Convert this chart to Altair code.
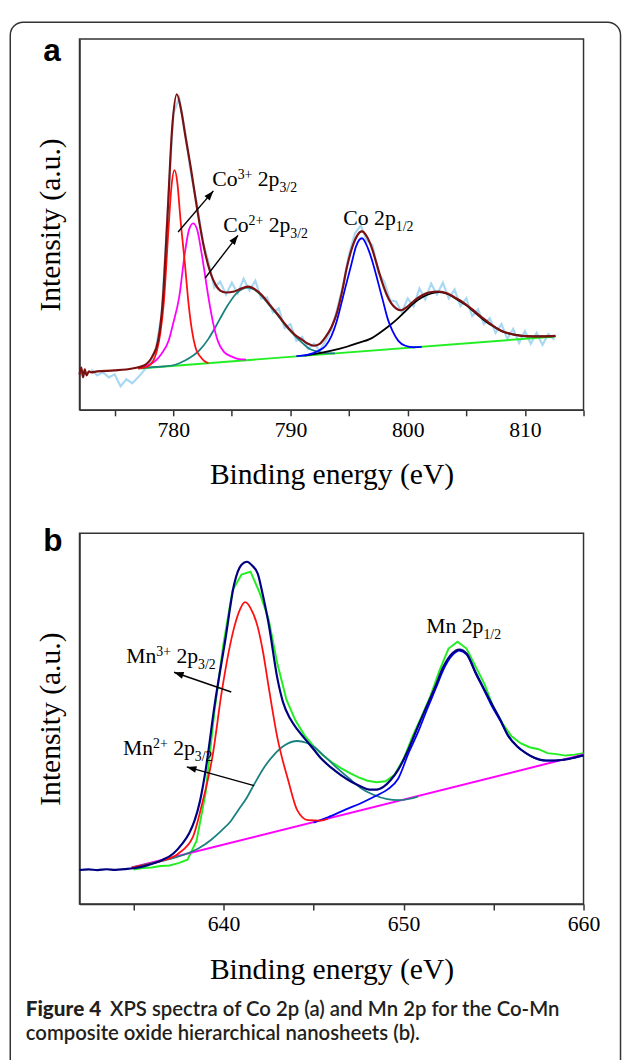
import math
import altair as alt
import pandas as pd

# ---------------- Panel a : Co 2p ----------------
a_raw_energy = [773.0, 773.5, 774.0, 774.5, 775.0, 775.5, 776.0, 776.5, 777.0, 777.5,
                778.0, 778.5, 779.0, 779.5, 780.0, 780.5, 781.0, 781.5, 782.0, 782.5,
                783.0, 783.5, 784.0, 784.5, 785.0, 785.5, 786.0, 786.5, 787.0, 787.5,
                788.0, 788.5, 789.0, 789.5, 790.0, 790.5, 791.0, 791.5, 792.0, 792.5,
                793.0, 793.5, 794.0, 794.5, 795.0, 795.5, 796.0, 796.5, 797.0, 797.5,
                798.0, 798.5, 799.0, 799.5, 800.0, 800.5, 801.0, 801.5, 802.0, 802.5,
                803.0, 803.5, 804.0, 804.5, 805.0, 805.5, 806.0, 806.5, 807.0, 807.5,
                808.0, 808.5, 809.0, 809.5, 810.0, 810.5, 811.0, 811.5, 812.0, 812.5]
a_raw_intensity = [41, 35, 38, 33, 36, 24, 31, 27, 33, 40,
                   47, 61, 96, 196, 300, 316, 283, 240, 210, 172,
                   150, 124, 130, 117, 129, 118, 133, 121, 131, 113,
                   114, 99, 103, 83, 87, 70, 74, 62, 67, 60,
                   70, 82, 103, 127, 158, 179, 187, 172, 167, 139,
                   130, 111, 110, 99, 113, 105, 123, 112, 128, 117,
                   129, 113, 122, 105, 113, 95, 102, 87, 93, 78,
                   87, 72, 82, 68, 80, 67, 78, 66, 77, 71]

a_fit_energy = [772.0, 772.15, 772.3, 772.45, 772.6, 772.8, 773.0, 773.5, 775.0, 776.5,
                777.5, 778.2, 778.7, 779.1, 779.5, 779.9, 780.3, 780.7, 781.0, 781.5,
                781.9, 782.3, 782.7, 783.2, 783.6, 784.0, 784.5, 785.2, 785.8, 786.4,
                787.0, 787.5, 788.2, 788.9, 789.6, 790.3, 791.0, 791.5, 792.0, 792.5,
                793.0, 793.5, 793.9, 794.4, 794.8, 795.3, 795.7, 796.1, 796.5, 797.0,
                797.3, 797.8, 798.2, 798.6, 799.0, 799.4, 799.9, 800.3, 800.7, 801.2,
                801.8, 802.6, 803.4, 804.0, 804.6, 805.4, 806.3, 807.2, 808.0, 808.8,
                809.7, 810.6, 811.5, 812.6]
a_fit_intensity = [36, 43, 33, 41, 35, 39, 38, 39, 40, 42,
                   45, 54, 70, 110, 195, 285, 320, 302, 280, 245,
                   214, 185, 160, 138, 127, 121, 119, 120, 123, 125,
                   122, 117, 107, 97, 86, 77, 71, 67, 65, 67,
                   74, 84, 96, 120, 144, 166, 177, 181, 176, 162,
                   150, 130, 117, 108, 103, 101, 104, 108, 112, 116,
                   119, 120, 118, 114, 110, 103, 94, 86, 80, 77,
                   75, 74.5, 74.5, 75]

a_co3_energy = [777.0, 777.8, 778.3, 778.6, 778.9, 779.2, 779.6, 779.85, 780.1, 780.35,
                780.6, 781.0, 781.3, 781.6, 781.9, 782.3, 782.7, 783.0]
a_co3_intensity = [42, 44, 50, 60, 78, 110, 185, 227, 243, 230,
                   195, 147, 108, 80, 63, 54, 49, 47.5]

a_co2_energy = [777.0, 777.8, 778.5, 779.0, 779.6, 780.0, 780.5, 781.0, 781.35, 781.7,
                782.05, 782.4, 783.0, 783.4, 783.8, 784.3, 785.0, 785.6, 786.2]
a_co2_intensity = [42, 45, 50, 57, 70, 88, 114, 160, 183, 189,
                   182, 160, 114, 88, 70, 59, 54, 51.5, 51]

a_sat1_energy = [777.0, 778.5, 779.9, 781.0, 782.2, 783.0, 783.6, 784.2, 784.7, 785.3,
                 785.9, 786.4, 786.9, 787.5, 788.2, 788.9, 789.6, 790.3, 791.0, 791.6,
                 792.2, 793.0, 793.8]
a_sat1_intensity = [42, 43.5, 45, 50, 60, 72, 84, 97, 107, 117,
                    122.5, 124, 122, 116, 106, 96, 85, 76, 68, 62,
                    59.5, 57.5, 57.3]

a_p12_energy = [790.5, 791.5, 792.4, 793.0, 793.5, 793.9, 794.3, 794.7, 795.2, 795.6,
                796.1, 796.6, 797.0, 797.5, 797.9, 798.3, 798.7, 799.2, 799.8, 800.5,
                801.2]
a_p12_intensity = [54.5, 56, 60, 65, 75, 88, 106, 125, 148, 166,
                   174, 164, 150, 128, 110, 92, 80, 70, 65, 63.5,
                   63.8]

a_sat2_energy = [791.2, 792.5, 793.5, 794.8, 795.8, 796.8, 797.6, 798.4, 799.1, 799.8,
                 800.5, 801.2, 802.0, 802.7, 803.4, 804.2, 805.0, 805.8, 806.6, 807.4,
                 808.2, 809.0, 809.8, 810.6, 811.6, 812.6]
a_sat2_intensity = [55, 57.5, 60, 64, 68, 72, 78, 85, 92, 100,
                    108, 114, 118, 119.5, 117.5, 112, 106, 98, 90, 84,
                    79, 76.5, 75, 74.5, 74.5, 74.8]

a_base_energy = [777.1, 812.6]
a_base_intensity = [42, 74.5]

a_arrow_tail_e = [780.41, 782.72]
a_arrow_tail_i = [180.3, 133.7]
a_arrow_head_e = [783.42, 785.52]
a_arrow_head_i = [222, 177]

a_label_e = [783.33, 784.26, 794.51]
a_label_i = [227, 180.3, 187]
a_label_parts = [[("Co", "n"), ("3+", "sup"), (" ", "n"), ("2p", "n"), ("3/2", "sub")],
                 [("Co", "n"), ("2+", "sup"), (" ", "n"), ("2p", "n"), ("3/2", "sub")],
                 [("Co 2p", "n"), ("1/2", "sub")]]

a_ticks = [775, 780, 785, 790, 795, 800, 805, 810, 815]

# ---------------- Panel b : Mn 2p ----------------
b_raw_energy = [635.0, 635.5, 636.0, 636.5, 637.0, 637.5, 638.0, 638.5, 639.0, 639.5,
                640.0, 640.5, 641.0, 641.5, 642.0, 642.5, 643.0, 643.5, 644.0, 644.5,
                645.0, 645.5, 646.0, 646.5, 647.0, 647.5, 648.0, 648.5, 649.0, 649.5,
                650.0, 650.5, 651.0, 651.5, 652.0, 652.5, 653.0, 653.5, 654.0, 654.5,
                655.0, 655.5, 656.0, 656.5, 657.0, 657.5, 658.0, 658.5, 659.0, 659.5,
                660.0]
b_raw_intensity = [35, 36.5, 37, 38.5, 39, 41.5, 45, 64, 112, 196,
                   264, 318, 334, 337, 316, 289, 243, 207, 186, 171,
                   160, 151, 144, 138, 133, 128.5, 125, 123.5, 124.5, 131,
                   147, 170, 190, 211, 237, 259, 266, 259, 241, 223,
                   199, 183, 170, 163, 159, 157, 153, 152, 150.5, 151.5,
                   153]

b_fit_energy = [632.0, 632.5, 633.0, 633.5, 634.0, 634.5, 635.0, 635.8, 636.6, 637.2,
                637.7, 638.1, 638.4, 638.7, 639.0, 639.5, 640.1, 640.6, 641.0, 641.3,
                641.6, 641.9, 642.2, 642.5, 643.0, 643.3, 643.7, 644.1, 644.5, 645.0,
                645.4, 646.0, 646.5, 647.1, 647.6, 648.1, 648.5, 648.9, 649.3, 649.7,
                650.3, 650.8, 651.3, 651.8, 652.2, 652.7, 653.1, 653.5, 654.0, 654.5,
                654.9, 655.4, 655.8, 656.3, 656.8, 657.3, 657.9, 658.4, 658.9, 659.5,
                660.0]
b_fit_intensity = [34.5, 35.2, 34.4, 35.3, 34.6, 35.4, 36.3, 39.5, 44.7, 51,
                   61, 72, 85, 105, 135, 201, 268, 325, 344, 347,
                   343, 335, 312, 285, 228, 205, 188, 177, 168, 157,
                   148, 138, 131, 124, 119.5, 116, 116, 119, 126, 136,
                   158, 180, 201, 222, 240, 254, 258, 254, 235, 217,
                   203, 186, 171, 160, 153, 148, 145.5, 145.5, 146.3, 148.5,
                   150.7]

b_mn3_energy = [634.9, 636.0, 636.6, 637.5, 638.3, 638.8, 639.4, 639.9, 640.6, 640.9,
                641.2, 641.5, 641.9, 642.2, 642.5, 643.0, 643.6, 644.1, 644.7, 645.4,
                645.8]
b_mn3_intensity = [37, 41, 44, 51.3, 68, 101, 151, 215, 281, 298,
                   306, 300, 281, 255, 221, 168, 125, 95, 85, 84.5,
                   86.5]

b_mn2_energy = [634.9, 636.0, 637.0, 637.8, 638.6, 639.3, 639.9, 640.4, 640.8, 641.3,
                641.7, 642.2, 642.8, 643.4, 644.1, 644.6, 645.0, 645.6, 646.3, 647.0,
                647.6, 648.3, 649.1, 649.7, 650.3, 650.8]
b_mn2_intensity = [37, 41.5, 45.5, 50, 56.3, 65, 74.7, 84, 94.7, 108,
                   121.3, 137, 151.3, 161, 165.3, 163.5, 159.7, 150, 138, 127,
                   118, 111, 106.3, 105.3, 106.5, 109]

b_p12_energy = [645.0, 645.8, 646.8, 647.6, 648.5, 649.1, 649.7, 650.3, 650.8, 651.3,
                651.8, 652.2, 652.7, 653.1, 653.5, 654.0, 654.5, 654.9, 655.4, 655.8,
                656.3, 656.8, 657.3, 657.9, 658.4, 658.9, 659.5, 660.0]
b_p12_intensity = [82.5, 88, 96, 102, 110, 116, 127, 154, 174, 197,
                   219, 237, 252, 257, 253, 234, 216, 201, 185, 171,
                   160, 153, 148, 145.3, 145.3, 146.3, 148.5, 150.7]

b_base_energy = [634.9, 660.0]
b_base_intensity = [37, 151.6]

b_arrow_tail_e = [640.43, 641.70]
b_arrow_tail_i = [215, 120]
b_arrow_head_e = [637.25, 637.96]
b_arrow_head_i = [235, 139]

b_label_e = [634.59, 634.41, 651.26]
b_label_i = [244.7, 151.3, 274.7]
b_label_parts = [[("Mn", "n"), ("3+", "sup"), (" ", "n"), ("2p", "n"), ("3/2", "sub")],
                 [("Mn", "n"), ("2+", "sup"), (" ", "n"), ("2p", "n"), ("3/2", "sub")],
                 [("Mn 2p", "n"), ("1/2", "sub")]]

b_ticks = [635, 640, 645, 650, 655, 660]

caption_lines = ["Figure 4", "XPS spectra of Co 2p (a) and Mn 2p for the Co-Mn",
                 "composite oxide hierarchical nanosheets (b)."]

# ---------------- styling ----------------
W, H = 511, 376
SERIF = "Liberation Serif"
MAIN_FS, SCRIPT_FS = 22, 14
TIMES_W = {"C": .667, "o": .5, "M": .889, "n": .5, "2": .5, "3": .5, "+": .564,
           "p": .5, "/": .278, "1": .5, " ": .25}


def tw(s, fs):
    return sum(TIMES_W.get(c, .5) for c in s) * fs


def make_enc(domain, ticks):
    x = alt.X("E:Q", scale=alt.Scale(domain=domain, nice=False, zero=False),
              axis=alt.Axis(values=ticks, labelExpr="datum.value % 10 == 0 ? datum.label : ''",
                            tickSize=6, labelPadding=4, titlePadding=20, labelFlush=False,
                            labelOverlap=False),
              title="Binding energy (eV)")
    y = alt.Y("I:Q", scale=alt.Scale(domain=[0, H], nice=False, zero=False),
              axis=alt.Axis(labels=False, ticks=False, tickSize=0, titlePadding=14),
              title="Intensity (a.u.)")
    return x, y


def line(E, I, color, width, x, y, interp="monotone"):
    df = pd.DataFrame({"E": E, "I": I})
    return alt.Chart(df).mark_line(color=color, strokeWidth=width, interpolate=interp).encode(x=x, y=y)


def arrows(te, ti, he, hi, x, y, px_per_ev):
    angs = []
    for a, b, c, d in zip(te, ti, he, hi):
        dx = (c - a) * px_per_ev
        dy = (d - b)
        angs.append((math.degrees(math.atan2(dx, dy)) + 360) % 360)
    df = pd.DataFrame({"E": te, "I": ti, "E2": he, "I2": hi})
    heads = pd.DataFrame({"E": he, "I": hi, "ang": angs})
    rule = alt.Chart(df).mark_rule(color="black", strokeWidth=1.4).encode(
        x=x, y=y, x2="E2:Q", y2="I2:Q")
    head = alt.Chart(heads).mark_point(shape="M0,0L-0.36,1L0.36,1Z", filled=True,
                                       color="black", size=380, opacity=1).encode(
        x=x, y=y, angle=alt.Angle("ang:Q", scale=None))
    return [rule, head]


def labels(Es, Is, parts_list, x, y):
    out = []
    for e, i, parts in zip(Es, Is, parts_list):
        off = 0.0
        df = pd.DataFrame({"E": [e], "I": [i]})
        for txt, kind in parts:
            fs = MAIN_FS if kind == "n" else SCRIPT_FS
            dy = 0 if kind == "n" else (-7 if kind == "sup" else 6)
            if txt.strip():
                out.append(alt.Chart(df).mark_text(text=txt, font=SERIF, fontSize=fs, align="left",
                                                   baseline="alphabetic", dx=off, dy=dy,
                                                   color="black").encode(x=x, y=y))
            off += tw(txt, fs)
    return out


one = pd.DataFrame({"d": [0]})

# ---- panel a ----
xa, ya = make_enc([772, 815], a_ticks)
ppe_a = W / (815 - 772)
layers_a = [
    alt.Chart(one).mark_rect(filled=False, stroke="#333333", strokeWidth=1.5, cornerRadius=13).encode(
        x=alt.value(-70.2), x2=alt.value(548.5), y=alt.value(-17), y2=alt.value(1050)),
    line(a_raw_energy, a_raw_intensity, "#a8d8f2", 2.2, xa, ya, "linear"),
    line(a_base_energy, a_base_intensity, "#22ee22", 2, xa, ya, "linear"),
    line(a_sat1_energy, a_sat1_intensity, "#1a8080", 1.8, xa, ya),
    line(a_sat2_energy, a_sat2_intensity, "#000000", 1.8, xa, ya),
    line(a_p12_energy, a_p12_intensity, "#0000ff", 1.8, xa, ya),
    line(a_co2_energy, a_co2_intensity, "#ff00ff", 1.8, xa, ya),
    line(a_co3_energy, a_co3_intensity, "#ff1010", 1.8, xa, ya),
    line(a_fit_energy, a_fit_intensity, "#7a1010", 2.2, xa, ya),
    alt.Chart(one).mark_text(text="a", font="Liberation Sans", fontWeight="bold", fontSize=32,
                             align="center", baseline="alphabetic", color="black").encode(
        x=alt.value(-28), y=alt.value(22)),
]
layers_a += arrows(a_arrow_tail_e, a_arrow_tail_i, a_arrow_head_e, a_arrow_head_i, xa, ya, ppe_a)
layers_a += labels(a_label_e, a_label_i, a_label_parts, xa, ya)
panel_a = alt.layer(*layers_a).properties(width=W, height=H)

# ---- panel b ----
xb, yb = make_enc([632, 660], b_ticks)
ppe_b = W / (660 - 632)
layers_b = [
    line(b_raw_energy, b_raw_intensity, "#22ee22", 2, xb, yb, "linear"),
    line(b_base_energy, b_base_intensity, "#ff00ff", 2, xb, yb, "linear"),
    line(b_mn2_energy, b_mn2_intensity, "#1a8080", 1.8, xb, yb),
    line(b_p12_energy, b_p12_intensity, "#0000ff", 1.8, xb, yb),
    line(b_mn3_energy, b_mn3_intensity, "#ff1010", 1.8, xb, yb),
    line(b_fit_energy, b_fit_intensity, "#000080", 2.2, xb, yb),
    alt.Chart(one).mark_text(text="b", font="Liberation Sans", fontWeight="bold", fontSize=32,
                             align="center", baseline="alphabetic", color="black").encode(
        x=alt.value(-27), y=alt.value(18)),
    alt.Chart(one).mark_text(text=caption_lines[0], font="Lato", fontWeight=900, fontSize=21,
                             align="left", baseline="alphabetic", color="#231f20").encode(
        x=alt.value(-54.5), y=alt.value(490)),
    alt.Chart(one).mark_text(text=caption_lines[1], font="Lato", fontWeight=600, fontSize=20.6,
                             align="left", baseline="alphabetic", color="#231f20").encode(
        x=alt.value(31), y=alt.value(490)),
    alt.Chart(one).mark_text(text=caption_lines[2], font="Lato", fontWeight=600, fontSize=20.6,
                             align="left", baseline="alphabetic", color="#231f20").encode(
        x=alt.value(-54.5), y=alt.value(514)),
]
layers_b += arrows(b_arrow_tail_e, b_arrow_tail_i, b_arrow_head_e, b_arrow_head_i, xb, yb, ppe_b)
layers_b += labels(b_label_e, b_label_i, b_label_parts, xb, yb)
panel_b = alt.layer(*layers_b).properties(width=W, height=H)

chart = alt.vconcat(panel_a, panel_b, spacing=125, bounds="flush").properties(
    padding={"left": 0.5, "top": 5, "right": 0, "bottom": 0},
    background="white",
).configure_view(
    stroke="#333333", strokeWidth=1.5
).configure_axis(
    grid=False, domainColor="#333333", domainWidth=1.5, tickColor="#333333", tickWidth=1.5,
    labelFont=SERIF, labelFontSize=22, labelColor="black",
    titleFont=SERIF, titleFontSize=30, titleFontWeight="normal", titleColor="black",
)

chart.save("out.html", embed_options={"renderer": "svg", "actions": False})
